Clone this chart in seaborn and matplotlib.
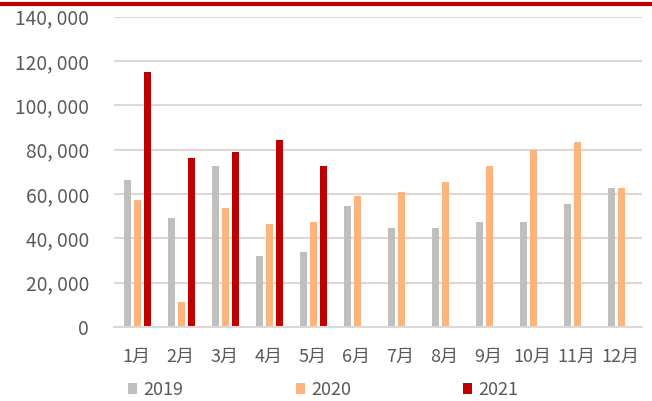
import matplotlib
matplotlib.use("Agg")
import matplotlib.pyplot as plt
import seaborn as sns
import pandas as pd
import numpy as np
from matplotlib.lines import Line2D
from matplotlib.patches import Patch

months = ["1月", "2月", "3月", "4月", "5月", "6月", "7月", "8月", "9月", "10月", "11月", "12月"]
years = ["2019", "2020", "2021"]
v2019 = [66400, 49200, 72700, 32100, 33900, 54700, 44700, 44700, 47400, 47400, 55600, 62800]
v2020 = [57400, 11300, 53700, 46500, 47400, 59200, 61000, 65500, 72700, 79900, 83600, 62800]
v2021 = [115200, 76300, 79000, 84500, 72700, np.nan, np.nan, np.nan, np.nan, np.nan, np.nan, np.nan]
colors = ["#BFBFBF", "#FFB47D", "#C00000"]
yticks = [0, 20000, 40000, 60000, 80000, 100000, 120000, 140000]

df = pd.DataFrame({
    "month": months * 3,
    "year": sum([[y] * 12 for y in years], []),
    "value": v2019 + v2020 + v2021,
})

sns.set_theme(style="white")
plt.rcParams['font.family'] = ['Noto Sans CJK SC', 'DejaVu Sans']

fig = plt.figure(figsize=(6.52, 4.01), dpi=100)
ax = fig.add_axes([0.175, 0.1845, 0.81, 0.774])

sns.barplot(data=df, x="month", y="value", hue="year", order=months, hue_order=years,
            palette=colors, width=0.68, ax=ax, legend=False, saturation=1,
            linewidth=0, edgecolor="none")

# slimmer bars with small gaps, keeping each bar centred in its slot
for p in ax.patches:
    w = p.get_width()
    nw = w * 0.72
    p.set_x(p.get_x() + (w - nw) / 2 + 0.03)
    p.set_width(nw)

ax.set_ylim(0, 140000)
ax.set_xlim(-0.5, 11.5)
ax.set_yticks(yticks)
ax.set_yticklabels(["0" if v == 0 else f"{v:,}".replace(",", ", ") for v in yticks])
ax.set_xlabel("")
ax.set_ylabel("")
ax.grid(axis="y", color="#D9D9D9", linewidth=1.5)
ax.set_axisbelow(True)
for s in ["top", "right", "left"]:
    ax.spines[s].set_visible(False)
ax.spines["bottom"].set_color("#D9D9D9")
ax.spines["bottom"].set_linewidth(1.5)
ax.tick_params(axis="both", length=0, labelsize=13, colors="#595959")
ax.tick_params(axis="y", pad=18, labelsize=13.8)
ax.tick_params(axis="x", pad=15)

handles = [Patch(facecolor=c, edgecolor="none", linewidth=0) for c in colors]
fig.legend(handles, years, loc="center left", bbox_to_anchor=(0.197, 0.028), ncol=3,
           frameon=False, handlelength=0.5, handleheight=0.5, handletextpad=0.35,
           columnspacing=6.2, fontsize=13, labelcolor="#595959", borderaxespad=0, borderpad=0)

fig.add_artist(Line2D([0, 1], [0.99, 0.99], color="#C00000", linewidth=3, transform=fig.transFigure))

fig.savefig("out.png", dpi=100)
